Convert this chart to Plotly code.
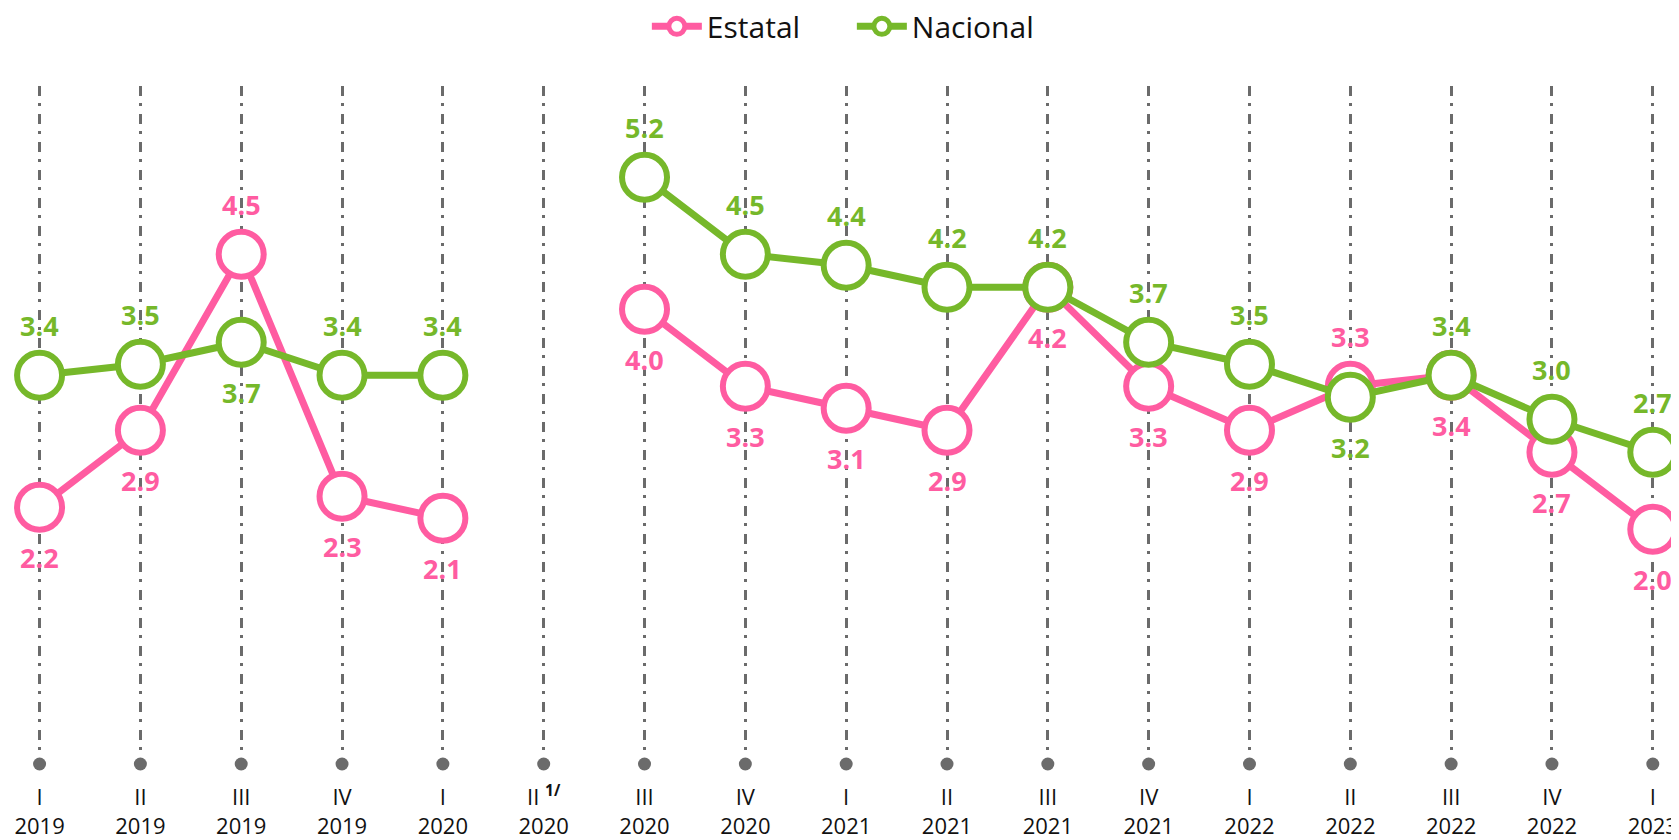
import plotly.graph_objects as go

# ---- data ----
quarters = ["I", "II", "III", "IV", "I", "II <sup><b>1/</b></sup>", "III", "IV", "I", "II", "III", "IV",
            "I", "II", "III", "IV", "I"]
years = ["2019", "2019", "2019", "2019", "2020", "2020", "2020", "2020", "2021", "2021", "2021", "2021",
         "2022", "2022", "2022", "2022", "2023"]
estatal = [2.2, 2.9, 4.5, 2.3, 2.1, None, 4.0, 3.3, 3.1, 2.9, 4.2, 3.3, 2.9, 3.3, 3.4, 2.7, 2.0]
nacional = [3.4, 3.5, 3.7, 3.4, 3.4, None, 5.2, 4.5, 4.4, 4.2, 4.2, 3.7, 3.5, 3.2, 3.4, 3.0, 2.7]
# label placement: +1 above, -1 below
estatal_pos = [-1, -1, 1, -1, -1, 0, -1, -1, -1, -1, -1, -1, -1, 1, -1, -1, -1]
nacional_pos = [1, 1, -1, 1, 1, 0, 1, 1, 1, 1, 1, 1, 1, -1, 1, 1, 1]

PINK = "#FF5CA1"
GREEN = "#76B82A"
GREY = "#6B6B6B"
FONT = "Open Sans"

categories = [f"{q}<br>{y}" for q, y in zip(quarters, years)]
Y_MIN, Y_MAX = -0.135, 6.03

fig = go.Figure()

# base dots on each category
fig.add_trace(go.Scatter(
    x=categories, y=[Y_MIN] * len(categories), mode="markers",
    marker=dict(size=13, color=GREY), cliponaxis=False,
    showlegend=False, hoverinfo="skip"))

for name, vals, color in [("Estatal", estatal, PINK), ("Nacional", nacional, GREEN)]:
    fig.add_trace(go.Scatter(
        x=categories, y=vals, mode="lines+markers", name=name,
        line=dict(color=color, width=7),
        marker=dict(symbol="circle", size=45, color="white", line=dict(color=color, width=6)),
        connectgaps=False, cliponaxis=False))

annotations = []
for vals, pos, color in [(estatal, estatal_pos, PINK), (nacional, nacional_pos, GREEN)]:
    for c, v, p in zip(categories, vals, pos):
        if v is None:
            continue
        annotations.append(dict(
            x=c, y=v, xref="x", yref="y", text=f"<b>{v:.1f}</b>", showarrow=False,
            yshift=50 * p, font=dict(family=FONT, size=27, color=color)))

fig.update_layout(
    width=1671, height=832,
    margin=dict(l=0, r=0, t=78, b=74),
    plot_bgcolor="white", paper_bgcolor="white",
    annotations=annotations,
    legend=dict(orientation="h", x=0.505, xanchor="center", yref="container", y=0.978,
                yanchor="middle", font=dict(family=FONT, size=30, color="#111111"),
                itemwidth=50, entrywidth=140, entrywidthmode="pixels", traceorder="normal"),
    xaxis=dict(type="category", range=[-0.313, 16.26], showgrid=True, gridcolor=GREY,
               gridwidth=3, griddash="10px,7px,3px,8px", showline=False, zeroline=False,
               ticks="", ticklabelstandoff=18,
               tickfont=dict(family=FONT, size=22, color="#111111")),
    yaxis=dict(range=[Y_MIN, Y_MAX], visible=False, showgrid=False, zeroline=False),
)

fig.write_html("out.html")
